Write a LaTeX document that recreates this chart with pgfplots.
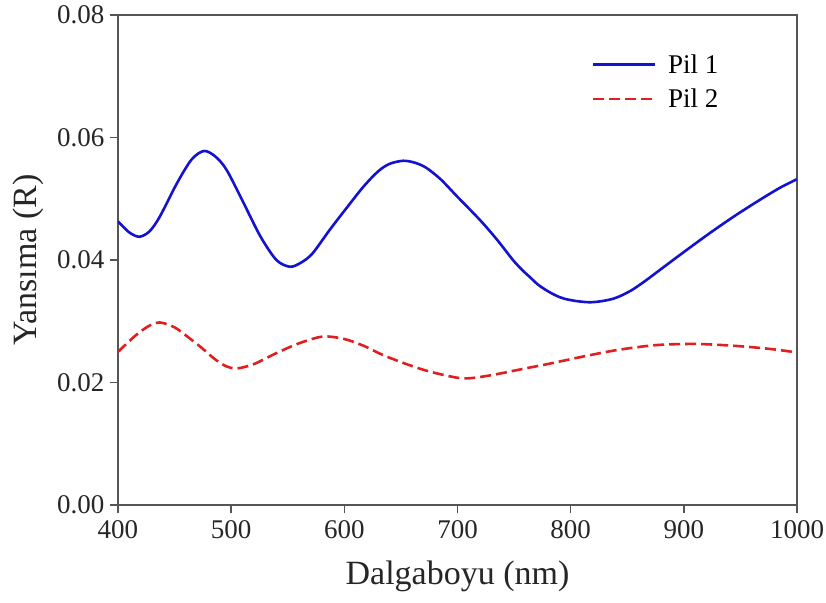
\documentclass[border=0pt]{standalone}
\usepackage{pgfplots}
\pgfplotsset{compat=1.18}
\usepackage{fontspec}
\setmainfont{Liberation Serif}

\definecolor{pilblue}{RGB}{18,18,208}
\definecolor{pilred}{RGB}{224,32,32}
\definecolor{axisgray}{RGB}{85,85,85}

\pgfplotstableread{
x y
400 0.0463
410 0.0445
419 0.0438
428 0.0447
437 0.0471
452 0.0525
465 0.0564
476 0.0578
486 0.0569
496 0.0547
511 0.0493
526 0.0438
540 0.0400
552 0.0389
562 0.0396
572 0.0411
587 0.0449
602 0.0485
617 0.0520
630 0.0545
640 0.0557
652 0.0562
662 0.0559
672 0.0551
685 0.0532
699 0.0505
720 0.0465
735 0.0433
749 0.0400
757 0.0384
764 0.0372
771 0.0360
779 0.0350
787 0.0342
794 0.0337
805 0.0333
817 0.0331
828 0.0333
838 0.0337
846 0.0343
855 0.0352
866 0.0366
879 0.0384
900 0.0413
923 0.0444
945 0.0472
967 0.0498
985 0.0518
1000 0.0532
}\pilone

\pgfplotstableread{
x y
400 0.0250
415 0.0276
427 0.0292
437 0.0298
450 0.0290
462 0.0274
473 0.0258
485 0.0239
495 0.0227
505 0.0223
520 0.0230
540 0.0248
560 0.0264
581 0.0275
600 0.0271
617 0.0260
634 0.0245
655 0.0230
675 0.0218
699 0.0208
711 0.0207
730 0.0212
760 0.0223
782 0.0231
810 0.0242
841 0.0253
875 0.0261
908 0.0263
935 0.0261
958 0.0258
980 0.0254
1000 0.0249
}\piltwo

\begin{document}
\begin{tikzpicture}
\path[use as bounding box] (-118pt,-97pt) rectangle (708pt,505pt);
\begin{axis}[
  scale only axis,
  width=679pt, height=490pt,
  xmin=400, xmax=1000, ymin=0, ymax=0.08,
  xtick={400,500,...,1000},
  ytick={0,0.02,0.04,0.06,0.08},
  scaled y ticks=false,
  axis line style={axisgray, line width=1.6pt},
  tick style={axisgray, line width=1.4pt},
  tick align=outside,
  major tick length=8pt,
  xtick pos=bottom, ytick pos=left,
  minor tick num=0,
  /pgf/number format/assume math mode=true,
  xticklabel style={/pgf/number format/1000 sep={}, yshift=-4pt},
  yticklabel style={/pgf/number format/fixed, /pgf/number format/fixed zerofill,
    /pgf/number format/precision=2, xshift=-2pt},
  tick label style={font=\fontsize{27}{31}\selectfont, text=black!85},
  xlabel={Dalgaboyu (nm)},
  ylabel={Yansıma (R)},
  label style={font=\fontsize{34}{38}\selectfont, text=black!85},
  xlabel style={at={(axis description cs:0.5,0)}, anchor=north, yshift=-52pt},
  ylabel style={at={(axis description cs:-0.1325,0.5)}, anchor=center},
  legend style={draw=none, fill=none, at={(0.6926,0.928)}, anchor=north west,
    font=\fontsize{27}{30}\selectfont, row sep=10pt,
    /tikz/every even column/.append style={column sep=0pt}},
  legend cell align=left,
  legend image code/.code={\draw[#1] (0pt,0pt) -- (62pt,0pt);},
]
\addplot[pilblue, line width=2.6pt, smooth] table[x=x,y=y] {\pilone};
\addlegendentry{\hspace{10pt}Pil 1}
\addplot[pilred, line width=2.6pt, smooth, dash pattern=on 11pt off 5pt] table[x=x,y=y] {\piltwo};
\addlegendentry{\hspace{10pt}Pil 2}
\end{axis}
\end{tikzpicture}
\end{document}
